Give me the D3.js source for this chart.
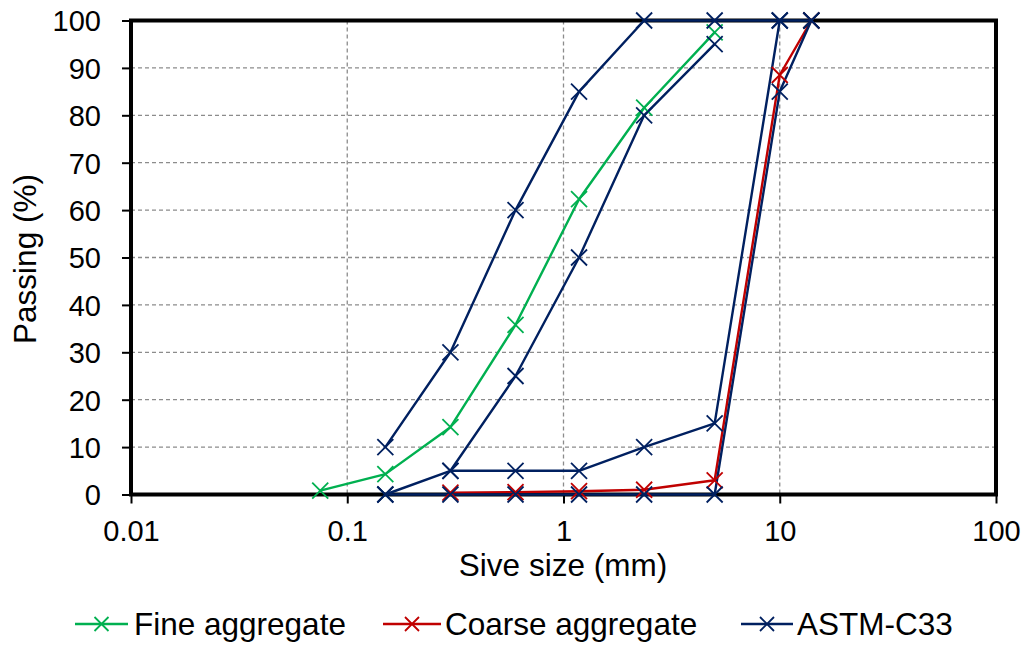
<!DOCTYPE html>
<html>
<head>
<meta charset="utf-8">
<script src="https://cdn.jsdelivr.net/npm/d3@7"></script>
<style>
  html, body { margin: 0; padding: 0; background: #fff; }
  svg { display: block; font-family: Arial, "Liberation Sans", sans-serif; }
</style>
</head>
<body>
<svg id="chart" width="1030" height="646"></svg>
<script>
// ---- data ----
const fineSizes = [0.075, 0.15, 0.3, 0.6, 1.18, 2.36, 5];
const fineValues = [0.8, 4.3, 14.2, 35.8, 62.3, 81.6, 97.5];

const coarseSizes = [0.3, 0.6, 1.18, 2.36, 5, 10, 14];
const coarseValues = [0.4, 0.5, 0.7, 1.0, 3.0, 88.5, 100];

const astmFineUpperSizes = [0.15, 0.3, 0.6, 1.18, 2.36, 5, 10];
const astmFineUpperValues = [10, 30, 60, 85, 100, 100, 100];
const astmFineLowerSizes = [0.15, 0.3, 0.6, 1.18, 2.36, 5];
const astmFineLowerValues = [0, 5, 25, 50, 80, 95];
const astmCoarseUpperSizes = [0.3, 0.6, 1.18, 2.36, 5, 10, 14];
const astmCoarseUpperValues = [5, 5, 5, 10, 15, 100, 100];
const astmCoarseLowerSizes = [0.15, 0.3, 0.6, 1.18, 2.36, 5, 10, 14];
const astmCoarseLowerValues = [0, 0, 0, 0, 0, 0, 85, 100];

const xTicks = [0.01, 0.1, 1, 10, 100];
const xTickLabels = ["0.01", "0.1", "1", "10", "100"];
const yTicks = [0, 10, 20, 30, 40, 50, 60, 70, 80, 90, 100];

const seriesNames = ["Fine aggregate", "Coarse aggregate", "ASTM-C33"];
const seriesColors = ["#00B050", "#C00000", "#002060"];

// ---- layout ----
const svg = d3.select("#chart");
const pL = 131, pR = 996, pT = 20.5, pB = 494.5;
const x = d3.scaleLog().domain([0.01, 100]).range([pL, pR]);
const y = d3.scaleLinear().domain([0, 100]).range([pB, pT]);

// gridlines
const grid = svg.append("g");
grid.selectAll("line.h").data(yTicks.filter(v => v > 0 && v < 100)).join("line")
  .attr("class", "h")
  .attr("x1", pL).attr("x2", pR)
  .attr("y1", d => y(d)).attr("y2", d => y(d))
  .attr("stroke", "#8c8c8c").attr("stroke-width", 1.3).attr("stroke-dasharray", "4,3");
grid.selectAll("line.v").data(xTicks.slice(1, -1)).join("line")
  .attr("class", "v")
  .attr("x1", d => x(d)).attr("x2", d => x(d))
  .attr("y1", pT).attr("y2", pB)
  .attr("stroke", "#8c8c8c").attr("stroke-width", 1.3).attr("stroke-dasharray", "4,3");

// axes
const yAxis = d3.axisLeft(y).tickValues(yTicks).tickSize(9).tickPadding(20).tickFormat(d3.format("d"));
const gy = svg.append("g").attr("transform", `translate(${pL},0)`).call(yAxis);
const xAxis = d3.axisBottom(x).tickValues(xTicks).tickSize(9).tickPadding(20)
  .tickFormat((d, i) => xTickLabels[i]);
const gx = svg.append("g").attr("transform", `translate(0,${pB})`).call(xAxis);
[gx, gy].forEach(g => {
  g.select(".domain").remove();
  g.selectAll(".tick line").attr("stroke", "#000").attr("stroke-width", 2);
  g.selectAll(".tick text").attr("fill", "#000").style("font-size", "29px")
    .style("font-family", "Arial, 'Liberation Sans', sans-serif");
});
gy.selectAll(".tick text").attr("x", -30).attr("dy", "0.36em");
gx.selectAll(".tick text").attr("dy", "0").attr("y", 46.5);

// series lines
const line = d3.line().x(d => x(d[0])).y(d => y(d[1]));
const zip = (a, b) => a.map((v, i) => [v, b[i]]);
const allSeries = [
  { pts: zip(fineSizes, fineValues), color: seriesColors[0] },
  { pts: zip(coarseSizes, coarseValues), color: seriesColors[1] },
  { pts: zip(astmFineUpperSizes, astmFineUpperValues), color: seriesColors[2] },
  { pts: zip(astmFineLowerSizes, astmFineLowerValues), color: seriesColors[2] },
  { pts: zip(astmCoarseUpperSizes, astmCoarseUpperValues), color: seriesColors[2] },
  { pts: zip(astmCoarseLowerSizes, astmCoarseLowerValues), color: seriesColors[2] }
];

// frame
svg.append("rect").attr("x", pL).attr("y", pT).attr("width", pR - pL).attr("height", pB - pT)
  .attr("fill", "none").attr("stroke", "#000").attr("stroke-width", 4);

const gs = svg.append("g");
allSeries.forEach(s => {
  gs.append("path").attr("d", line(s.pts)).attr("fill", "none")
    .attr("stroke", s.color).attr("stroke-width", 2.4).attr("stroke-linejoin", "round");
});

const m = 8;
function xMark(cx, cy, r) {
  return `M${cx - r},${cy - r}L${cx + r},${cy + r}M${cx - r},${cy + r}L${cx + r},${cy - r}`;
}
allSeries.forEach(s => {
  gs.selectAll(null).data(s.pts).join("path")
    .attr("d", p => xMark(x(p[0]), y(p[1]), m))
    .attr("stroke", s.color).attr("stroke-width", 1.8).attr("fill", "none");
});

// axis titles
svg.append("text").attr("x", 563).attr("y", 576).attr("text-anchor", "middle")
  .style("font-size", "31.5px").attr("fill", "#000").text("Sive size (mm)");
svg.append("text").attr("transform", "translate(36,259) rotate(-90)").attr("text-anchor", "middle")
  .style("font-size", "31.5px").attr("fill", "#000").text("Passing (%)");

// legend
const legendItems = [
  { x1: 75, x2: 128, tx: 134 },
  { x1: 383, x2: 441, tx: 445 },
  { x1: 741, x2: 793, tx: 797 }
];
const ly = 624, lbase = 635;
const lg = svg.append("g");
legendItems.forEach((it, i) => {
  lg.append("line").attr("x1", it.x1).attr("x2", it.x2).attr("y1", ly).attr("y2", ly)
    .attr("stroke", seriesColors[i]).attr("stroke-width", 2.4);
  const cx = (it.x1 + it.x2) / 2;
  lg.append("path").attr("d", xMark(cx, ly, 7))
    .attr("stroke", seriesColors[i]).attr("stroke-width", 1.8);
  lg.append("text").attr("x", it.tx).attr("y", lbase).style("font-size", "31.5px")
    .attr("fill", "#000").text(seriesNames[i]);
});
</script>
</body>
</html>
